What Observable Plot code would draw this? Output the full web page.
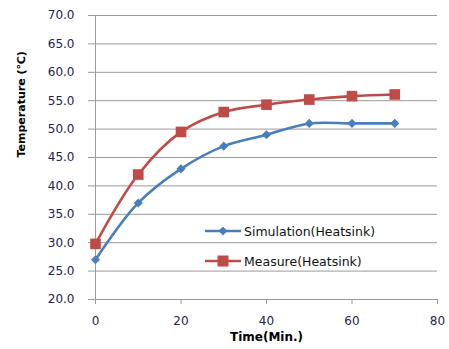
<!DOCTYPE html>
<html>
<head>
<meta charset="utf-8">
<script src="https://cdn.jsdelivr.net/npm/d3@7"></script>
<script src="https://cdn.jsdelivr.net/npm/@observablehq/plot@0.6"></script>
<style>
  html, body { margin: 0; padding: 0; background: #fff; }
  #wrap { position: relative; width: 449px; height: 349px; font-family: "DejaVu Sans", Verdana, sans-serif; }
  #legend { position: absolute; left: 205px; top: 216px; font-size: 12.5px; color: #111; }
  .row { display: flex; align-items: center; height: 30px; }
  .row svg { margin-right: 3px; }
</style>
</head>
<body>
<div id="wrap"></div>
<script>
const times = [0, 10, 20, 30, 40, 50, 60, 70];
const simulation = [27.0, 37.0, 43.0, 47.0, 49.0, 51.0, 51.0, 51.0];
const measure = [29.8, 42.0, 49.5, 53.0, 54.3, 55.2, 55.8, 56.1];
const yTicks = [20, 25, 30, 35, 40, 45, 50, 55, 60, 65, 70];
const xTicks = [0, 20, 40, 60, 80];
const seriesNames = ["Simulation(Heatsink)", "Measure(Heatsink)"];
const seriesColors = ["#4A7EBB", "#BE4B48"];
const yTitle = "Temperature (℃)";
const xTitle = "Time(Min.)";

const simData = times.map((t, i) => ({t, v: simulation[i]}));
const meaData = times.map((t, i) => ({t, v: measure[i]}));

const chart = Plot.plot({
  width: 449,
  height: 349,
  marginLeft: 95,
  marginRight: 12,
  marginTop: 15,
  marginBottom: 50,
  style: {fontFamily: "DejaVu Sans, Verdana, sans-serif", background: "#fff"},
  x: {domain: [0, 80]},
  y: {domain: [20, 70]},
  marks: [
    Plot.ruleY(yTicks, {stroke: "#9a9a9a", strokeWidth: 1}),
    Plot.ruleX([0], {stroke: "#9a9a9a", strokeWidth: 1}),
    Plot.axisY({ticks: yTicks, tickFormat: d => d.toFixed(1), tickSize: 7, tickPadding: 14, stroke: "#9a9a9a", fill: "#23234a", fontSize: 12, label: null}),
    Plot.axisX({ticks: xTicks, tickSize: 5, tickPadding: 12, stroke: "#9a9a9a", fill: "#23234a", fontSize: 12, label: null}),
    Plot.line(simData, {x: "t", y: "v", stroke: seriesColors[0], strokeWidth: 2.6, curve: "catmull-rom"}),
    Plot.line(meaData, {x: "t", y: "v", stroke: seriesColors[1], strokeWidth: 2.6, curve: "catmull-rom"}),
    Plot.dot(simData, {x: "t", y: "v", symbol: "diamond2", r: 4.1, fill: seriesColors[0], stroke: "none"}),
    Plot.dot(meaData, {x: "t", y: "v", symbol: "square", r: 6.0, fill: seriesColors[1], stroke: "none"}),
    Plot.text([yTitle], {frameAnchor: "left", rotate: -90, dx: -74, fontWeight: "bold", fontSize: 11, fill: "#000"}),
    Plot.text([xTitle], {frameAnchor: "bottom", dy: 41, fontWeight: "bold", fontSize: 12, fill: "#000"})
  ]
});

const wrap = document.getElementById("wrap");
wrap.appendChild(chart);

const legend = document.createElement("div");
legend.id = "legend";
seriesNames.forEach((name, i) => {
  const row = document.createElement("div");
  row.className = "row";
  const sym = i === 0
    ? `<polygon points="18,0.5 22.5,5 18,9.5 13.5,5" fill="${seriesColors[i]}"/>`
    : `<rect x="12.5" y="-0.5" width="11" height="11" fill="${seriesColors[i]}"/>`;
  row.innerHTML = `<svg width="36" height="10" style="overflow:visible"><line x1="0" x2="36" y1="5" y2="5" stroke="${seriesColors[i]}" stroke-width="2.4"/>${sym}</svg><span>${name}</span>`;
  legend.appendChild(row);
});
wrap.appendChild(legend);
</script>
</body>
</html>
